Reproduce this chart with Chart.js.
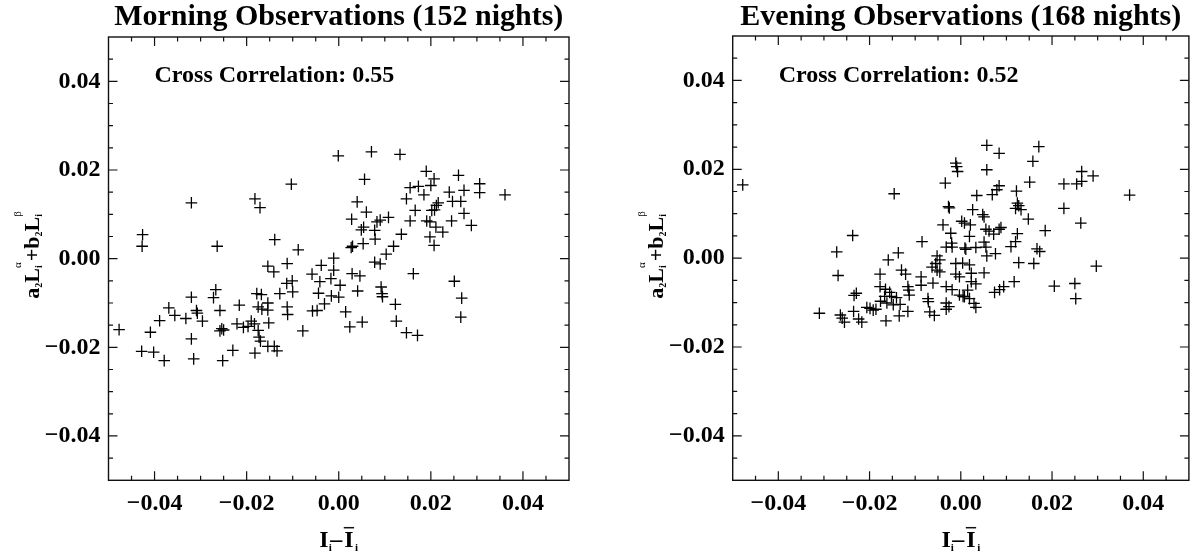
<!DOCTYPE html>
<html>
<head>
<meta charset="utf-8">
<title>Morning / Evening Observations</title>
<script src="https://cdn.jsdelivr.net/npm/chart.js@4.4.0/dist/chart.umd.min.js"></script>
<style>
    body { margin: 0; background: #fff; }
    canvas { position: absolute; top: 0; }
    #morningChart { left: 0; }
    #eveningChart { left: 598px; }
</style>
</head>
<body>
<canvas id="morningChart" width="598" height="555"></canvas>
<canvas id="eveningChart" width="598" height="555"></canvas>
<script>
// --- Data ---
const axisMin = -0.05;
const axisMax = 0.05;
const minorStep = 0.005;
const tickValues = [-0.04, -0.02, 0, 0.02, 0.04];
const tickLabels = ['\u22120.04', '\u22120.02', '0.00', '0.02', '0.04'];

const morningTitle = 'Morning Observations (152 nights)';
const eveningTitle = 'Evening Observations (168 nights)';
const morningNote = 'Cross Correlation: 0.55';
const eveningNote = 'Cross Correlation: 0.52';

// I_i - mean(I_i)  vs  a2*L_i^alpha + b2*L_i^beta
const morningX = [
    -0.0477, -0.0426, -0.0427, -0.0428, -0.0409, -0.0402, -0.0389, -0.0379, -0.0369, -0.0356,
    -0.0332, -0.0320, -0.0320, -0.0320, -0.0315, -0.0309, -0.0307, -0.0296, -0.0272, -0.0267,
    -0.0264, -0.0258, -0.0258, -0.0254, -0.0250, -0.0252, -0.0230, -0.0221, -0.0216, -0.0207,
    -0.0197, -0.0190, -0.0183, -0.0182, -0.0182, -0.0178, -0.0175, -0.0175, -0.0173, -0.0171,
    -0.0170, -0.0168, -0.0167, -0.0154, -0.0154, -0.0154, -0.0152, -0.0154, -0.0141, -0.0140,
    -0.0139, -0.0134, -0.0128, -0.0113, -0.0112, -0.0112, -0.0111, -0.0103, -0.0101, -0.0100,
    -0.0088, -0.0078, -0.0058, -0.0057, -0.0047, -0.0044, -0.0041, -0.0038, -0.0031, -0.0017,
    -0.0016, -0.0011, -0.0011, -0.0001, 0.0003, 0.0071, 0.0133, 0.0056, 0.0190, 0.0207,
    0.0260, 0.0306, 0.0306, 0.0361, 0.0272, 0.0272, 0.0288, 0.0240, 0.0247, 0.0265,
    0.0245, 0.0226, 0.0211, 0.0216, 0.0212, 0.0208, 0.0202, 0.0198, 0.0191, 0.0198,
    0.0207, 0.0155, 0.0173, 0.0200, 0.0185, 0.0147, 0.0166, 0.0155, 0.0136, 0.0119,
    0.0103, 0.0078, 0.0090, 0.0040, 0.0060, 0.0028, 0.0108, 0.0090, 0.0083, 0.0078,
    0.0054, 0.0049, 0.0079, 0.0053, 0.0030, 0.0027, 0.0029, 0.0046, 0.0041, 0.0000,
    0.0015, 0.0024, 0.0051, 0.0092, 0.0094, 0.0095, 0.0123, 0.0125, 0.0147, 0.0171,
    0.0162, 0.0251, 0.0267, 0.0265
];
const morningY = [
    -0.0160, 0.0054, 0.0028, -0.0209, -0.0166, -0.0211, -0.0140, -0.0230, -0.0111, -0.0128,
    -0.0135, 0.0126, -0.0087, -0.0181, -0.0226, -0.0117, -0.0123, -0.0141, -0.0088, -0.0070,
    0.0028, -0.0117, -0.0163, -0.0158, -0.0161, -0.0230, -0.0207, -0.0147, -0.0105, -0.0155,
    -0.0153, -0.0141, -0.0147, 0.0135, -0.0213, -0.0079, -0.0109, -0.0162, -0.0177, 0.0115,
    -0.0186, -0.0081, -0.0114, -0.0017, -0.0100, -0.0116, -0.0145, -0.0198, -0.0030, -0.0198,
    0.0043, -0.0208, -0.0079, -0.0056, -0.0011, -0.0109, -0.0126, 0.0168, -0.0050, -0.0075,
    0.0020, -0.0163, -0.0035, -0.0118, -0.0117, -0.0078, -0.0052, -0.0015, -0.0102, -0.0045,
    -0.0084, 0.0001, -0.0026, 0.0232, -0.0060, 0.0241, 0.0235, 0.0179, 0.0197, 0.0180,
    0.0188, 0.0169, 0.0149, 0.0144, 0.0154, 0.0102, 0.0075, 0.0150, 0.0129, 0.0129,
    0.0085, 0.0060, 0.0071, 0.0126, 0.0120, 0.0110, 0.0109, 0.0083, 0.0085, 0.0049,
    0.0030, 0.0160, 0.0163, 0.0165, 0.0144, 0.0135, 0.0109, 0.0085, 0.0055, 0.0028,
    0.0010, -0.0008, -0.0012, 0.0128, 0.0105, 0.0089, 0.0093, 0.0087, 0.0083, 0.0064,
    0.0071, 0.0065, 0.0044, 0.0034, 0.0028, 0.0025, -0.0034, -0.0039, -0.0073, -0.0087,
    -0.0120, -0.0154, -0.0143, -0.0064, -0.0079, -0.0086, -0.0103, -0.0141, -0.0167, -0.0173,
    -0.0034, -0.0051, -0.0089, -0.0132
];

const eveningX = [
    -0.0478, -0.0310, -0.0272, -0.0269, -0.0264, -0.0260, -0.0255, -0.0237, -0.0235, -0.0234,
    -0.0229, -0.0224, -0.0217, -0.0206, -0.0199, -0.0192, -0.0186, -0.0177, -0.0177, -0.0176,
    -0.0167, -0.0165, -0.0164, -0.0162, -0.0159, -0.0156, -0.0152, -0.0148, -0.0146, -0.0141,
    -0.0137, -0.0135, -0.0133, -0.0130, -0.0121, -0.0116, -0.0116, -0.0114, -0.0113, -0.0087,
    -0.0087, -0.0085, -0.0072, -0.0071, -0.0068, -0.0063, -0.0061, -0.0058, -0.0055, -0.0052,
    -0.0052, -0.0046, -0.0046, -0.0039, -0.0034, -0.0032, -0.0032, -0.0032, -0.0032, -0.0027,
    -0.0025, -0.0026, -0.0022, -0.0020, -0.0019, -0.0019, -0.0011, -0.0009, -0.0007, -0.0011,
    -0.0011, -0.0003, -0.0003, 0.0005, 0.0002, 0.0009, 0.0057, 0.0084, 0.0171, 0.0158,
    0.0057, 0.0151, 0.0265, 0.0290, 0.0226, 0.0254, 0.0265, 0.0370, 0.0226, 0.0263,
    0.0297, 0.0205, 0.0250, 0.0252, 0.0185, 0.0167, 0.0173, 0.0160, 0.0127, 0.0117,
    0.0124, 0.0120, 0.0110, 0.0148, 0.0122, 0.0124, 0.0127, 0.0132, 0.0120, 0.0084,
    0.0079, 0.0069, 0.0035, 0.0026, 0.0048, 0.0051, 0.0008, 0.0021, 0.0055, 0.0062,
    0.0072, 0.0084, 0.0088, 0.0019, 0.0011, 0.0033, 0.0051, 0.0055, 0.0057, 0.0076,
    0.0004, 0.0019, 0.0051, 0.0023, 0.0023, 0.0033, 0.0015, 0.0074, 0.0085, 0.0094,
    0.0008, 0.0019, 0.0029, 0.0033
];
const eveningY = [
    0.0165, -0.0124, 0.0014, -0.0039, -0.0128, -0.0135, -0.0144, 0.0051, -0.0120, -0.0084,
    -0.0079, -0.0137, -0.0144, -0.0111, -0.0113, -0.0117, -0.0115, -0.0036, -0.0064, -0.0097,
    -0.0086, -0.0070, -0.0141, -0.0101, -0.0004, -0.0077, -0.0086, -0.0105, 0.0145, -0.0089,
    0.0012, -0.0130, -0.0104, -0.0027, -0.0036, -0.0064, -0.0120, -0.0072, -0.0083, -0.0042,
    -0.0061, 0.0037, -0.0091, -0.0098, -0.0121, -0.0020, -0.0056, -0.0129, -0.0012, 0.0005,
    -0.0027, -0.0004, -0.0031, 0.0075, 0.0169, 0.0025, -0.0064, -0.0101, -0.0115, 0.0116,
    0.0113, -0.0109, 0.0056, 0.0034, -0.0071, 0.0025, 0.0214, 0.0206, 0.0195, -0.0012,
    -0.0036, -0.0042, -0.0083, -0.0086, 0.0083, 0.0023, 0.0254, 0.0236, 0.0251, 0.0218,
    0.0199, 0.0171, 0.0195, 0.0185, 0.0167, 0.0167, 0.0173, 0.0142, 0.0112, 0.0079,
    -0.0018, -0.0063, -0.0057, -0.0091, 0.0062, 0.0021, 0.0015, -0.0012, -0.0010, -0.0053,
    0.0055, 0.0037, 0.0026, 0.0088, 0.0151, 0.0124, 0.0118, 0.0109, 0.0112, 0.0163,
    0.0154, 0.0143, 0.0141, 0.0109, 0.0098, 0.0093, 0.0079, 0.0075, 0.0065, 0.0061,
    0.0054, 0.0065, 0.0069, 0.0049, 0.0020, 0.0024, 0.0036, 0.0025, 0.0005, 0.0010,
    -0.0011, -0.0015, -0.0033, -0.0034, -0.0053, -0.0058, -0.0072, -0.0077, -0.0071, -0.0064,
    -0.0087, -0.0091, -0.0102, -0.0111
];

// --- Drawing helpers ---
const serif = '"Liberation Serif", "Times New Roman", Times, serif';

function toPoints(xs, ys) {
    return xs.map((x, i) => ({ x: x, y: ys[i] }));
}

// Draws a row of text pieces (with sub/superscripts) starting at x0 on baseline 0
function drawPieces(ctx, pieces, x0) {
    const widths = pieces.map(p => {
        ctx.font = p.font;
        let w = ctx.measureText(p.text).width;
        if (p.sup) {
            ctx.font = p.sup.font;
            w = Math.max(w, ctx.measureText(p.sup.text).width);
        }
        return w + (p.gap || 0);
    });
    const total = widths.reduce((s, w) => s + w, 0);
    let x = x0 === undefined ? -total / 2 : x0;
    pieces.forEach((p, i) => {
        ctx.font = p.font;
        ctx.fillText(p.text, x, p.dy || 0);
        const w = ctx.measureText(p.text).width;
        if (p.sup) {
            ctx.font = p.sup.font;
            ctx.fillText(p.sup.text, x, p.sup.dy);
        }
        if (p.overline) {
            ctx.lineWidth = 1.5;
            ctx.beginPath();
            ctx.moveTo(x - 0.5, p.overline);
            ctx.lineTo(x + w + 0.5, p.overline);
            ctx.stroke();
        }
        x += widths[i];
    });
}

function drawXTitle(ctx, cx, baseline) {
    const big = 'bold 24px ' + serif;
    const sub = 'bold 11px ' + serif;
    ctx.save();
    ctx.translate(cx, baseline);
    drawPieces(ctx, [
        { text: 'I', font: big },
        { text: 'i', font: sub, dy: 4, gap: -1.5 },
        { text: '\u2013', font: big, gap: 2 },
        { text: 'I', font: big, overline: -19, gap: 1.5 },
        { text: 'i', font: sub, dy: 4 }
    ]);
    ctx.restore();
}

function drawYTitle(ctx, baselineX, cy) {
    const big = 'bold 22px ' + serif;
    const sub = 'bold 10px ' + serif;
    const greek = '11px ' + serif;
    ctx.save();
    ctx.translate(baselineX, cy);
    ctx.rotate(-Math.PI / 2);
    drawPieces(ctx, [
        { text: 'a', font: big },
        { text: '2', font: sub, dy: 3 },
        { text: 'L', font: big },
        { text: 'i', font: sub, dy: 3, sup: { text: '\u03b1', font: greek, dy: -18 }, gap: 1 },
        { text: '+', font: big },
        { text: 'b', font: big },
        { text: '2', font: sub, dy: 3 },
        { text: 'L', font: big },
        { text: 'i', font: sub, dy: 3, sup: { text: '\u03b2', font: greek, dy: -18 } }
    ]);
    ctx.restore();
}

// Frame with inward ticks on all four sides, plus titles and axis labels
const panelDecor = {
    id: 'panelDecor',
    afterDraw(chart, args, opts) {
        const ctx = chart.ctx;
        const a = chart.chartArea;
        const xs = chart.scales.x;
        const ys = chart.scales.y;
        ctx.save();
        ctx.strokeStyle = '#111';
        ctx.fillStyle = '#000';
        ctx.lineWidth = 1.4;
        ctx.strokeRect(a.left, a.top, a.right - a.left, a.bottom - a.top);

        ctx.lineWidth = 1.2;
        ctx.beginPath();
        for (let i = -9; i <= 9; i++) {
            const v = i * minorStep;
            const len = i % 4 === 0 ? 9 : 4.5;
            const px = xs.getPixelForValue(v);
            const py = ys.getPixelForValue(v);
            ctx.moveTo(px, a.bottom); ctx.lineTo(px, a.bottom - len);
            ctx.moveTo(px, a.top); ctx.lineTo(px, a.top + len);
            ctx.moveTo(a.left, py); ctx.lineTo(a.left + len, py);
            ctx.moveTo(a.right, py); ctx.lineTo(a.right - len, py);
        }
        ctx.stroke();

        const cx = (a.left + a.right) / 2;
        ctx.textBaseline = 'alphabetic';
        ctx.textAlign = 'center';
        ctx.font = 'bold 30px ' + serif;
        ctx.fillText(opts.title, cx, 25);

        ctx.textAlign = 'left';
        ctx.font = 'bold 24px ' + serif;
        ctx.fillText(opts.note, a.left + 46, 82);

        drawXTitle(ctx, cx, 546.7);
        drawYTitle(ctx, a.left - 70, 255);
        ctx.restore();
    }
};

const tickFont = { family: serif, size: 24, weight: 'bold' };

function makePanel(canvasId, xs, ys, title, note, pad, yAxisWidth) {
    const ctx = document.getElementById(canvasId).getContext('2d');
    return new Chart(ctx, {
        type: 'scatter',
        data: {
            datasets: [{
                data: toPoints(xs, ys),
                pointStyle: 'cross',
                pointRadius: 5.8,
                pointHoverRadius: 5.8,
                borderColor: '#000',
                backgroundColor: '#000',
                borderWidth: 1.3
            }]
        },
        options: {
            responsive: false,
            animation: false,
            layout: { padding: pad },
            plugins: {
                legend: { display: false },
                tooltip: { enabled: false },
                panelDecor: { title: title, note: note }
            },
            scales: {
                x: {
                    type: 'linear',
                    min: axisMin,
                    max: axisMax,
                    grid: { display: false, drawTicks: false },
                    border: { display: false },
                    afterBuildTicks: s => { s.ticks = tickValues.map(v => ({ value: v })); },
                    afterFit: s => { s.height = 555 - 480.3 - pad.bottom; },
                    ticks: {
                        font: tickFont,
                        color: '#000',
                        padding: 9,
                        autoSkip: false,
                        maxRotation: 0,
                        minRotation: 0,
                        callback: (v, i) => tickLabels[i]
                    }
                },
                y: {
                    type: 'linear',
                    min: axisMin,
                    max: axisMax,
                    grid: { display: false, drawTicks: false },
                    border: { display: false },
                    afterBuildTicks: s => { s.ticks = tickValues.map(v => ({ value: v })); },
                    afterFit: s => { s.width = yAxisWidth; },
                    ticks: {
                        font: tickFont,
                        color: '#000',
                        padding: 8,
                        autoSkip: false,
                        callback: (v, i) => tickLabels[i]
                    }
                }
            }
        },
        plugins: [panelDecor]
    });
}

makePanel('morningChart', morningX, morningY, morningTitle, morningNote,
    { top: 37, right: 29, bottom: 0, left: 0 }, 108.5);
makePanel('eveningChart', eveningX, eveningY, eveningTitle, eveningNote,
    { top: 36, right: 2.7, bottom: 0, left: 0 }, 134.7);
</script>
</body>
</html>
